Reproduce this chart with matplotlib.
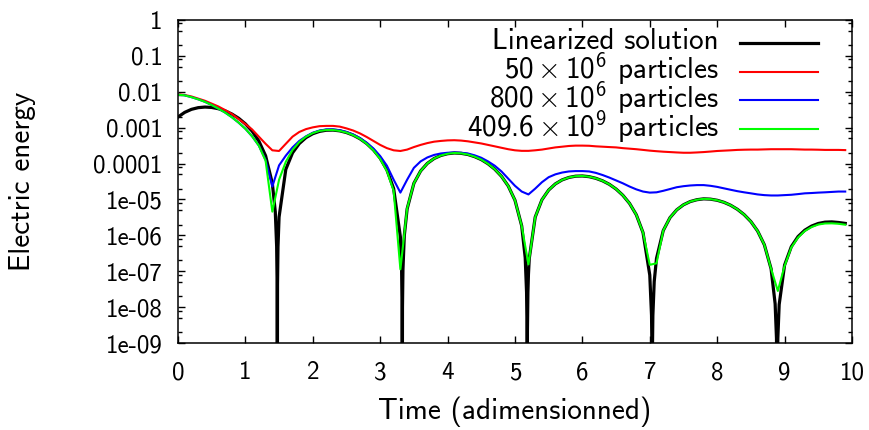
import numpy as np
import matplotlib
matplotlib.use("Agg")
import matplotlib.pyplot as plt
from matplotlib.ticker import FixedLocator, FixedFormatter, LogLocator, NullFormatter

plt.rcParams["font.family"] = ["cmss10", "DejaVu Sans"]
plt.rcParams["mathtext.fontset"] = "custom"
plt.rcParams["mathtext.rm"] = "cmss10"
plt.rcParams["mathtext.it"] = "cmss10"
plt.rcParams["mathtext.sf"] = "cmss10"
plt.rcParams["axes.unicode_minus"] = False

# linearized solution, denser near the zeros of the field
t_lin = [0.0, 0.1, 0.2, 0.3, 0.4, 0.5, 0.6, 0.7, 0.8, 0.9, 1.0, 1.1, 1.2, 1.3, 1.4,
         1.444, 1.464, 1.471, 1.474, 1.477, 1.484, 1.5, 1.6, 1.7, 1.8, 1.9, 2.0,
         2.1, 2.2, 2.3, 2.4, 2.5, 2.6, 2.7, 2.8, 2.9, 3.0, 3.1, 3.2, 3.3,
         3.318, 3.325, 3.328, 3.331, 3.338, 3.358, 3.4, 3.5, 3.6, 3.7, 3.8, 3.9,
         4.0, 4.1, 4.2, 4.3, 4.4, 4.5, 4.6, 4.7, 4.8, 4.9, 5.0, 5.1,
         5.152, 5.172, 5.179, 5.182, 5.185, 5.192, 5.2, 5.212, 5.3, 5.4, 5.5,
         5.6, 5.7, 5.8, 5.9, 6.0, 6.1, 6.2, 6.3, 6.4, 6.5, 6.6, 6.7, 6.8, 6.9,
         7.0, 7.026, 7.033, 7.036, 7.039, 7.046, 7.066, 7.1, 7.2, 7.3, 7.4, 7.5,
         7.6, 7.7, 7.8, 7.9, 8.0, 8.1, 8.2, 8.3, 8.4, 8.5, 8.6, 8.7, 8.8,
         8.86, 8.88, 8.887, 8.89, 8.893, 8.9, 8.92, 9.0, 9.1, 9.2, 9.3, 9.4,
         9.5, 9.6, 9.7, 9.8, 9.9]
e_lin = [1.98e-3, 2.67e-3, 3.24e-3, 3.61e-3, 3.75e-3, 3.66e-3, 3.37e-3, 2.94e-3,
         2.40e-3, 1.83e-3, 1.28e-3, 8.02e-4, 4.24e-4, 1.65e-4, 2.82e-5,
         4.50e-6, 4.92e-7, 4.40e-8, 1e-12, 4.38e-8, 4.84e-7, 3.24e-6, 6.90e-5,
         1.99e-4, 3.61e-4, 5.30e-4, 6.78e-4, 7.87e-4, 8.49e-4, 8.57e-4, 8.15e-4,
         7.31e-4, 6.19e-4, 4.91e-4, 3.61e-4, 2.40e-4, 1.41e-4, 6.64e-5, 2.00e-5,
         8.95e-7, 1.13e-7, 1.01e-8, 1e-12, 1.00e-8, 1.11e-7, 9.82e-7, 5.46e-6,
         2.81e-5, 6.21e-5, 1.01e-4, 1.38e-4, 1.68e-4, 1.88e-4, 1.97e-4, 1.93e-4,
         1.79e-4, 1.56e-4, 1.29e-4, 9.86e-5, 6.97e-5, 4.41e-5, 2.37e-5, 9.51e-6,
         1.83e-6, 2.37e-7, 2.59e-8, 2.31e-9, 1e-12, 2.30e-9, 2.55e-8, 8.20e-8,
         2.25e-7, 3.21e-6, 9.79e-6, 1.83e-5, 2.72e-5, 3.51e-5, 4.10e-5, 4.45e-5,
         4.51e-5, 4.31e-5, 3.88e-5, 3.30e-5, 2.64e-5, 1.95e-5, 1.31e-5, 7.76e-6,
         3.75e-6, 1.19e-6, 7.83e-8, 5.93e-9, 5.31e-10, 1e-12, 5.28e-10, 5.83e-9,
         5.16e-8, 2.28e-7, 1.36e-6, 3.11e-6, 5.13e-6, 7.10e-6, 8.73e-6, 9.84e-6,
         1.04e-5, 1.02e-5, 9.48e-6, 8.34e-6, 6.89e-6, 5.31e-6, 3.78e-6, 2.42e-6,
         1.32e-6, 5.46e-7, 1.17e-7, 1.24e-8, 1.36e-9, 1.22e-10, 1e-12, 1.21e-10,
         1.35e-9, 1.18e-8, 1.48e-7, 4.83e-7, 9.25e-7, 1.39e-6, 1.81e-6, 2.14e-6,
         2.33e-6, 2.37e-6, 2.28e-6, 2.15e-6]

# simulations, one sample every 0.1
time = np.arange(100) / 10

e_50m = [8.51e-3, 8.13e-3, 7.41e-3, 6.46e-3, 5.62e-3, 4.68e-3, 3.89e-3, 3.09e-3, 2.40e-3, 1.74e-3,
         1.26e-3, 8.91e-4, 5.62e-4, 3.55e-4, 2.34e-4, 2.24e-4, 3.55e-4, 5.62e-4, 7.59e-4, 9.12e-4,
         1.02e-3, 1.10e-3, 1.12e-3, 1.12e-3, 1.07e-3, 9.55e-4, 8.32e-4, 6.92e-4, 5.50e-4, 4.27e-4,
         3.31e-4, 2.69e-4, 2.34e-4, 2.24e-4, 2.45e-4, 2.88e-4, 3.31e-4, 3.72e-4, 4.07e-4, 4.27e-4,
         4.42e-4, 4.47e-4, 4.37e-4, 4.17e-4, 3.89e-4, 3.63e-4, 3.31e-4, 3.02e-4, 2.75e-4, 2.51e-4,
         2.34e-4, 2.26e-4, 2.26e-4, 2.34e-4, 2.45e-4, 2.63e-4, 2.82e-4, 2.95e-4, 3.09e-4, 3.16e-4,
         3.16e-4, 3.13e-4, 3.02e-4, 2.95e-4, 2.88e-4, 2.82e-4, 2.69e-4, 2.60e-4, 2.51e-4, 2.40e-4,
         2.29e-4, 2.21e-4, 2.14e-4, 2.09e-4, 2.04e-4, 2.00e-4, 2.00e-4, 2.04e-4, 2.09e-4, 2.16e-4,
         2.24e-4, 2.29e-4, 2.34e-4, 2.40e-4, 2.43e-4, 2.45e-4, 2.45e-4, 2.48e-4, 2.51e-4, 2.51e-4,
         2.51e-4, 2.51e-4, 2.48e-4, 2.45e-4, 2.45e-4, 2.43e-4, 2.40e-4, 2.40e-4, 2.40e-4, 2.37e-4]

e_800m = [8.32e-3, 7.94e-3, 7.08e-3, 6.17e-3, 5.25e-3, 4.27e-3, 3.39e-3, 2.63e-3, 1.95e-3, 1.38e-3,
          9.33e-4, 5.75e-4, 3.16e-4, 1.26e-4, 2.29e-5, 8.91e-5, 1.66e-4, 2.82e-4, 4.27e-4, 5.75e-4,
          7.24e-4, 8.32e-4, 8.91e-4, 8.91e-4, 8.51e-4, 7.59e-4, 6.46e-4, 5.13e-4, 3.80e-4, 2.63e-4,
          1.62e-4, 8.71e-5, 3.55e-5, 1.55e-5, 3.55e-5, 7.59e-5, 1.15e-4, 1.48e-4, 1.74e-4, 1.91e-4,
          2.00e-4, 2.04e-4, 2.00e-4, 1.91e-4, 1.70e-4, 1.45e-4, 1.15e-4, 8.71e-5, 6.03e-5, 3.80e-5,
          2.40e-5, 1.66e-5, 1.38e-5, 2.00e-5, 3.02e-5, 4.17e-5, 5.01e-5, 5.62e-5, 6.03e-5, 6.17e-5,
          6.17e-5, 6.03e-5, 5.50e-5, 4.79e-5, 4.07e-5, 3.39e-5, 2.82e-5, 2.29e-5, 1.91e-5, 1.66e-5,
          1.55e-5, 1.58e-5, 1.74e-5, 1.95e-5, 2.19e-5, 2.34e-5, 2.45e-5, 2.51e-5, 2.51e-5, 2.40e-5,
          2.24e-5, 2.04e-5, 1.86e-5, 1.70e-5, 1.58e-5, 1.48e-5, 1.38e-5, 1.32e-5, 1.29e-5, 1.29e-5,
          1.32e-5, 1.35e-5, 1.41e-5, 1.48e-5, 1.51e-5, 1.55e-5, 1.58e-5, 1.62e-5, 1.66e-5, 1.66e-5]

e_409g = [8.32e-3, 7.94e-3, 7.08e-3, 6.17e-3, 5.25e-3, 4.27e-3, 3.39e-3, 2.63e-3, 1.95e-3, 1.38e-3,
          9.33e-4, 5.75e-4, 3.16e-4, 1.20e-4, 4.57e-6, 3.55e-5, 1.12e-4, 2.40e-4, 3.98e-4, 5.62e-4,
          7.08e-4, 8.13e-4, 8.61e-4, 8.61e-4, 8.13e-4, 7.31e-4, 6.17e-4, 4.90e-4, 3.55e-4, 2.34e-4,
          1.35e-4, 6.17e-5, 1.74e-5, 1.13e-7, 5.62e-6, 2.82e-5, 6.17e-5, 1.01e-4, 1.38e-4, 1.68e-4,
          1.88e-4, 1.97e-4, 1.93e-4, 1.79e-4, 1.56e-4, 1.29e-4, 9.86e-5, 6.97e-5, 4.41e-5, 2.37e-5,
          9.51e-6, 1.83e-6, 1.55e-7, 3.21e-6, 9.79e-6, 1.83e-5, 2.72e-5, 3.51e-5, 4.10e-5, 4.45e-5,
          4.51e-5, 4.31e-5, 3.88e-5, 3.30e-5, 2.64e-5, 1.95e-5, 1.31e-5, 7.76e-6, 3.75e-6, 1.19e-6,
          1.51e-7, 1.66e-7, 1.36e-6, 3.11e-6, 5.13e-6, 7.10e-6, 8.73e-6, 9.84e-6, 1.04e-5, 1.02e-5,
          9.48e-6, 8.34e-6, 6.89e-6, 5.31e-6, 3.78e-6, 2.42e-6, 1.32e-6, 5.46e-7, 1.17e-7, 2.82e-8,
          1.40e-7, 4.60e-7, 8.70e-7, 1.32e-6, 1.70e-6, 2.00e-6, 2.14e-6, 2.16e-6, 2.10e-6, 1.98e-6]

labels = ["Linearized solution",
          r"$50 \times 10^{6}$ particles",
          r"$800 \times 10^{6}$ particles",
          r"$409.6 \times 10^{9}$ particles"]
colors = ["black", "#ff0000", "#0000ff", "#00ff00"]
widths = [2.3, 1.5, 1.5, 1.5]

y_ticks = [1, 0.1, 0.01, 0.001, 0.0001, 1e-5, 1e-6, 1e-7, 1e-8, 1e-9]
y_ticklabels = ["1", "0.1", "0.01", "0.001", "0.0001", "1e-05", "1e-06",
                "1e-07", "1e-08", "1e-09"]

fs = 21
fs_ticks = 18

fig = plt.figure(figsize=(8.69, 4.30), dpi=100)
ax = fig.add_axes([0.2048, 0.2023, 0.7756, 0.7512])

series = [(t_lin, e_lin), (time, e_50m), (time, e_800m), (time, e_409g)]
for (tt, ee), c, w in zip(series, colors, widths):
    ax.plot(tt, ee, color=c, lw=w)

ax.set_yscale("log")
ax.set_xlim(0, 10)
ax.set_ylim(1e-9, 1)
ax.set_xticks(range(11))
ax.yaxis.set_major_locator(FixedLocator(y_ticks))
ax.yaxis.set_major_formatter(FixedFormatter(y_ticklabels))
ax.yaxis.set_minor_locator(LogLocator(base=10, subs=[2, 5, 8], numticks=20))
ax.yaxis.set_minor_formatter(NullFormatter())

ax.tick_params(which="both", direction="in", top=True, right=True,
               labelsize=fs_ticks, width=1.0)
ax.tick_params(which="major", length=5, pad=11)
ax.tick_params(axis="x", which="major", pad=13)
ax.tick_params(which="minor", length=3)
for sp in ax.spines.values():
    sp.set_linewidth(1.1)

ax.set_xlabel("Time (adimensionned)", fontsize=fs)
ax.set_ylabel("Electric energy", fontsize=fs)
ax.xaxis.set_label_coords(0.5, -0.165)
ax.yaxis.set_label_coords(-0.210, 0.5)

# gnuplot-like key: right-aligned text, sample line on its right
for i, (lab, c, w) in enumerate(zip(labels, colors, widths)):
    yb = 0.909 - 0.0897 * i
    ax.text(0.8027, yb, lab, transform=ax.transAxes, ha="right",
            va="baseline", fontsize=fs)
    ax.plot([0.8338, 0.9496], [yb + 0.0212] * 2, transform=ax.transAxes,
            color=c, lw=w)

fig.savefig("out.png", dpi=100)
